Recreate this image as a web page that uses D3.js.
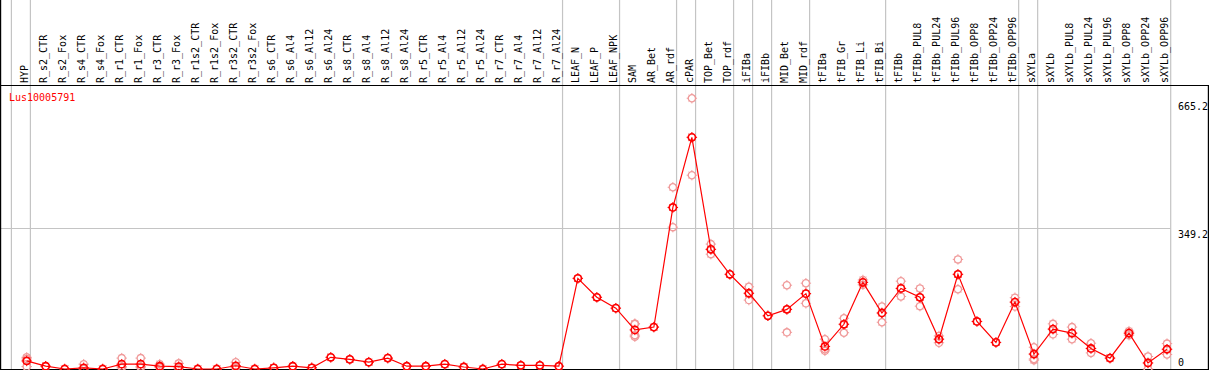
<!DOCTYPE html>
<html>
<head>
<meta charset="utf-8">
<script src="https://cdn.jsdelivr.net/npm/d3@7"></script>
<style>
html,body{margin:0;padding:0;background:#fff;}
svg{display:block;}
text{font-family:"DejaVu Sans Mono",monospace;font-size:10px;}
</style>
</head>
<body>
<svg id="chart" width="1209" height="370"></svg>
<script>
const title = "Lus10005791";
const categories = ["HYP","R_s2_CTR","R_s2_Fox","R_s4_CTR","R_s4_Fox","R_r1_CTR","R_r1_Fox","R_r3_CTR","R_r3_Fox",
 "R_r1s2_CTR","R_r1s2_Fox","R_r3s2_CTR","R_r3s2_Fox","R_s6_CTR","R_s6_Al4","R_s6_Al12","R_s6_Al24",
 "R_s8_CTR","R_s8_Al4","R_s8_Al12","R_s8_Al24","R_r5_CTR","R_r5_Al4","R_r5_Al12","R_r5_Al24",
 "R_r7_CTR","R_r7_Al4","R_r7_Al12","R_r7_Al24","LEAF_N","LEAF_P","LEAF_NPK","SAM","AR_Bet","AR_rdf",
 "cPAR","TOP_Bet","TOP_rdf","iFIBa","iFIBb","MID_Bet","MID_rdf","tFIBa","tFIB_Gr","tFIB_Li","tFIB_Bi",
 "tFIBb","tFIBb_PUL8","tFIBb_PUL24","tFIBb_PUL96","tFIBb_OPP8","tFIBb_OPP24","tFIBb_OPP96",
 "sXYLa","sXYLb","sXYLb_PUL8","sXYLb_PUL24","sXYLb_PUL96","sXYLb_OPP8","sXYLb_OPP24","sXYLb_OPP96"];
const means = [20,7,0,3,0,12,12,7,6,0,0,8,0,3,7,3,29,24,17,27,7,7,12,5,0,12,9,9,7,
 225,178,151,97,104,401,575,297,235,188,132,148,187,56,111,215,139,
 200,178,74,235,118,66,166,37,99,89,51,27,89,15,49];
const replicates = [[29,25,6],[7],[0],[12,0],[0],[27,6,3],[27,6,3],[12,5,4],[14,3,1],[0],[0],[17,5,2],[0],[3],[7],[3],[29],[24],[17],[27],[7],[7],[12],[5],[0],[12],[9],[9],[7],
 [225],[178],[151],[112,84,80,112],[104],[451,401,352],[672,575,481],[310,297,285],[235],[204,188,171],[132],[208,148,91],[213,187,163],[74,45,49],[126,111,90],[221,215,209],[155,139,116],
 [218,200,180],[200,178,156],[82,74,65],[272,235,198],[118],[66],[177,166,155],[54,25,22,37],[112,99,86],[104,89,74],[64,51,40],[27],[94,89,84],[31,15,0],[63,49,36]];
const tickValues = [0, 349.2, 665.2];
const tickLabels = ["0","349.2","665.2"];
const yMax = 698.4;
const separatorsAfter = [-1,0,28,31,34,35,37,38,39,41,45,52,53,60];

const svg = d3.select("#chart");
const W = 1209, plotTop = 85.5, plotBottom = 369;
const x = d3.scalePoint().domain(categories).range([26.7, 1167]);
const step = x.step();
const y = d3.scaleLinear().domain([0, yMax]).range([369, 87.6]);
const xi = i => x(categories[0]) + i * step;

// separators
svg.append("g").selectAll("line").data(separatorsAfter).join("line")
  .attr("x1", d => xi(d) + 3.7 ).attr("x2", d => xi(d) + 3.7)
  .attr("y1", 0).attr("y2", plotBottom)
  .attr("stroke", "#c4c4c4").attr("stroke-width", 1.2);

// mid gridline
svg.append("line").attr("x1", 0).attr("x2", xi(60) + 3.7)
  .attr("y1", Math.round(y(tickValues[1])) + 0.5).attr("y2", Math.round(y(tickValues[1])) + 0.5)
  .attr("stroke", "#c4c4c4").attr("stroke-width", 1.2);

// frame
const frame = svg.append("g").attr("stroke", "#000").attr("stroke-width", 1.2);
frame.append("line").attr("x1", 0).attr("x2", W).attr("y1", plotTop).attr("y2", plotTop);
frame.append("line").attr("x1", 0).attr("x2", W).attr("y1", plotBottom + 0.5).attr("y2", plotBottom + 0.5);
frame.append("line").attr("x1", 0.6).attr("x2", 0.6).attr("y1", 0).attr("y2", plotBottom);
frame.append("line").attr("x1", W - 0.6).attr("x2", W - 0.6).attr("y1", plotTop).attr("y2", plotBottom);

// category labels
svg.append("g").selectAll("text").data(categories).join("text")
  .attr("transform", d => `translate(${x(d) + 0.8},83) rotate(-90)`)
  .attr("text-anchor", "start").attr("fill", "#000").text(d => d);

// title
svg.append("text").attr("x", 9).attr("y", 101).attr("fill", "#ff0000").text(title);

// y labels
svg.append("g").selectAll("text").data(tickValues).join("text")
  .attr("x", 1178)
  .attr("y", (d, i) => i === 0 ? 366 : y(d) + 9.5)
  .attr("fill", "#000").text((d, i) => tickLabels[i]);

function marker(g, color, r, sw) {
  g.append("circle").attr("r", r).attr("fill", "none").attr("stroke", color).attr("stroke-width", sw);
  const t = [[0,-1],[0,1],[1,0],[-1,0],[0.707,0.707],[-0.707,0.707],[0.707,-0.707],[-0.707,-0.707]];
  t.forEach(([dx, dy], k) => {
    const len = k < 4 ? 1.6 : 1.0;
    g.append("line")
      .attr("x1", dx * (r)).attr("y1", dy * (r))
      .attr("x2", dx * (r + len)).attr("y2", dy * (r + len))
      .attr("stroke", color).attr("stroke-width", 1);
  });
}

// replicates
const repData = [];
replicates.forEach((arr, i) => arr.forEach(v => repData.push({c: categories[i], v})));
svg.append("g").selectAll("g").data(repData).join("g")
  .attr("transform", d => `translate(${x(d.c)},${y(d.v)})`)
  .each(function(){ marker(d3.select(this), "#f09a9a", 3.6, 1.3); });

// line
svg.append("path").datum(means)
  .attr("fill", "none").attr("stroke", "#ff0000").attr("stroke-width", 1.2)
  .attr("d", d3.line().x((d, i) => x(categories[i])).y(d => y(d)));

// means
svg.append("g").selectAll("g").data(means).join("g")
  .attr("transform", (d, i) => `translate(${x(categories[i])},${y(d)})`)
  .each(function(){ marker(d3.select(this), "#ff0000", 3.6, 1.6); });
</script>
</body>
</html>
